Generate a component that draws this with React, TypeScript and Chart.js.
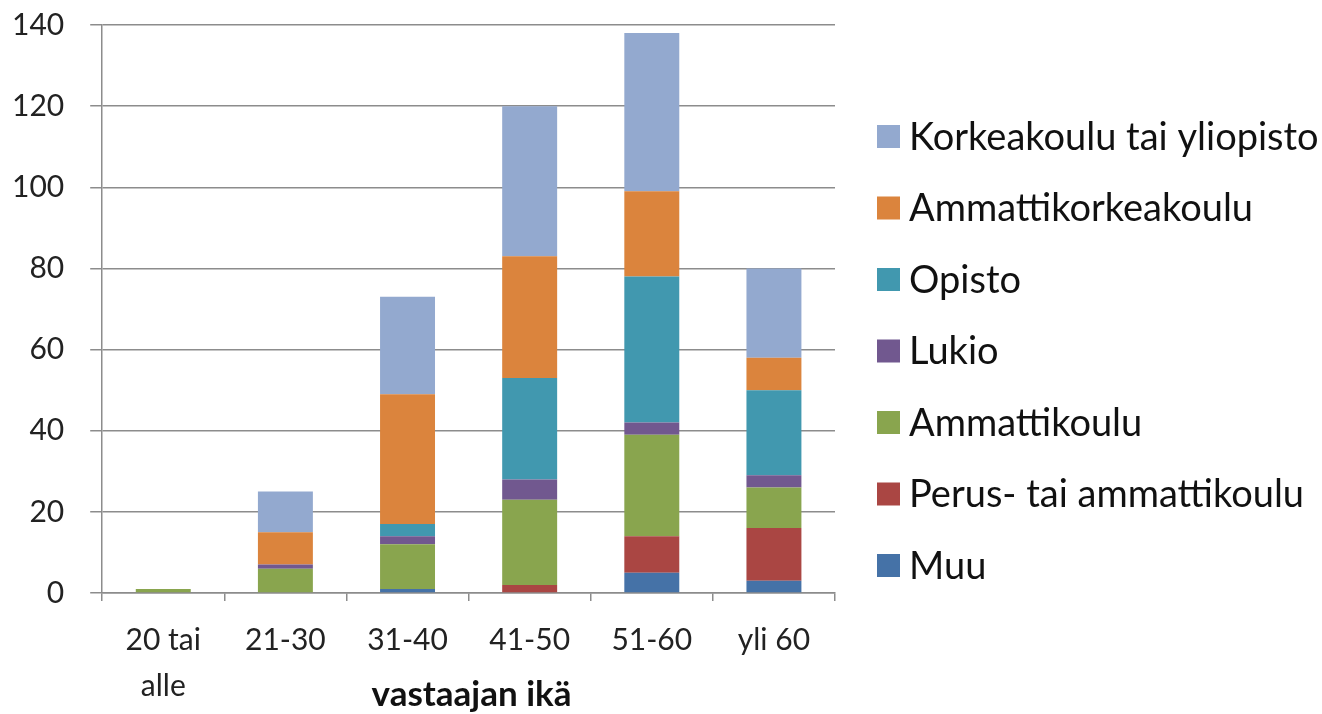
import React, { useEffect, useRef } from "react";
import { Chart, registerables } from "chart.js";

Chart.register(...registerables);

const categories: (string | string[])[] = [["20 tai", "alle"], "21-30", "31-40", "41-50", "51-60", "yli 60"];
const seriesNames = [
  "Muu",
  "Perus- tai ammattikoulu",
  "Ammattikoulu",
  "Lukio",
  "Opisto",
  "Ammattikorkeakoulu",
  "Korkeakoulu tai yliopisto",
];
const muu = [0, 0, 1, 0, 5, 3];
const perus = [0, 0, 0, 2, 9, 13];
const ammattikoulu = [1, 6, 11, 21, 25, 10];
const lukio = [0, 1, 2, 5, 3, 3];
const opisto = [0, 0, 3, 25, 36, 21];
const amk = [0, 8, 32, 30, 21, 8];
const korkea = [0, 10, 24, 37, 39, 22];
const seriesColors = ["#4572A7", "#AA4643", "#89A54E", "#71588F", "#4198AF", "#DB843D", "#93A9CF"];
const yTicksMax = 140;
const yStep = 20;
const xTitle = "vastaajan ikä";

const FONT = "Lato, 'Open Sans', sans-serif";

export default function App() {
  const ref = useRef<HTMLCanvasElement | null>(null);
  useEffect(() => {
    document.body.style.margin = "0";
    const values = [muu, perus, ammattikoulu, lukio, opisto, amk, korkea];
    const extrasPlugin = {
      id: "extras",
      afterDraw(chart: any) {
        const { ctx, chartArea } = chart;
        ctx.save();
        // axis title
        ctx.font = `bold 35px ${FONT}`;
        ctx.fillStyle = "#111";
        ctx.textAlign = "center";
        ctx.textBaseline = "alphabetic";
        ctx.fillText(xTitle, (chartArea.left + chartArea.right) / 2 + 3, 706);
        // legend (reversed order, on the right)
        const ds = chart.data.datasets;
        const legendX = chartArea.right + 42;
        const rowH = 71.5;
        const n = ds.length;
        const centerY = 351;
        const firstY = centerY - ((n - 1) / 2) * rowH;
        ctx.font = `38px ${FONT}`;
        ctx.textAlign = "left";
        ctx.textBaseline = "middle";
        for (let k = 0; k < n; k++) {
          const d = ds[n - 1 - k];
          const y = firstY + k * rowH;
          ctx.fillStyle = d.backgroundColor;
          ctx.fillRect(legendX, y - 11.5, 23, 23);
          ctx.fillStyle = "#111";
          ctx.fillText(d.label, legendX + 32, y + 1);
        }
        ctx.restore();
      },
    };
    const chart = new Chart(ref.current!, {
      type: "bar",
      data: {
        labels: categories,
        datasets: seriesNames.map((name, i) => ({
          label: name,
          data: values[i],
          backgroundColor: seriesColors[i],
          borderWidth: 0,
          categoryPercentage: 1,
          barPercentage: 0.45,
        })),
      },
      options: {
        animation: false,
        responsive: false,
        layout: { padding: { left: 12, top: 25, bottom: -12, right: 487 } },
        plugins: {
          legend: { display: false },
          tooltip: { enabled: false },
        },
        scales: {
          x: {
            stacked: true,
            grid: { drawOnChartArea: false, offset: true, tickLength: 8, color: "#8c8c8c", lineWidth: 1.5 },
            border: { color: "#8c8c8c", width: 1.5 },
            ticks: { font: { family: FONT, size: 30, lineHeight: 1.55 }, color: "#222", padding: 16, maxRotation: 0 },
          },
          y: {
            stacked: true,
            min: 0,
            max: yTicksMax,
            grid: {
              color: "#8c8c8c",
              lineWidth: 1.5,
              tickLength: 38,
              tickBorderDash: [12, 26],
              tickBorderDashOffset: 12,
            },
            border: { color: "#8c8c8c", width: 1.5 },
            ticks: { stepSize: yStep, font: { family: FONT, size: 30 }, color: "#222", padding: 0 },
          },
        },
      },
      plugins: [extrasPlugin],
    });
    return () => chart.destroy();
  }, []);
  return <canvas ref={ref} width={1322} height={714} style={{ display: "block" }} />;
}
